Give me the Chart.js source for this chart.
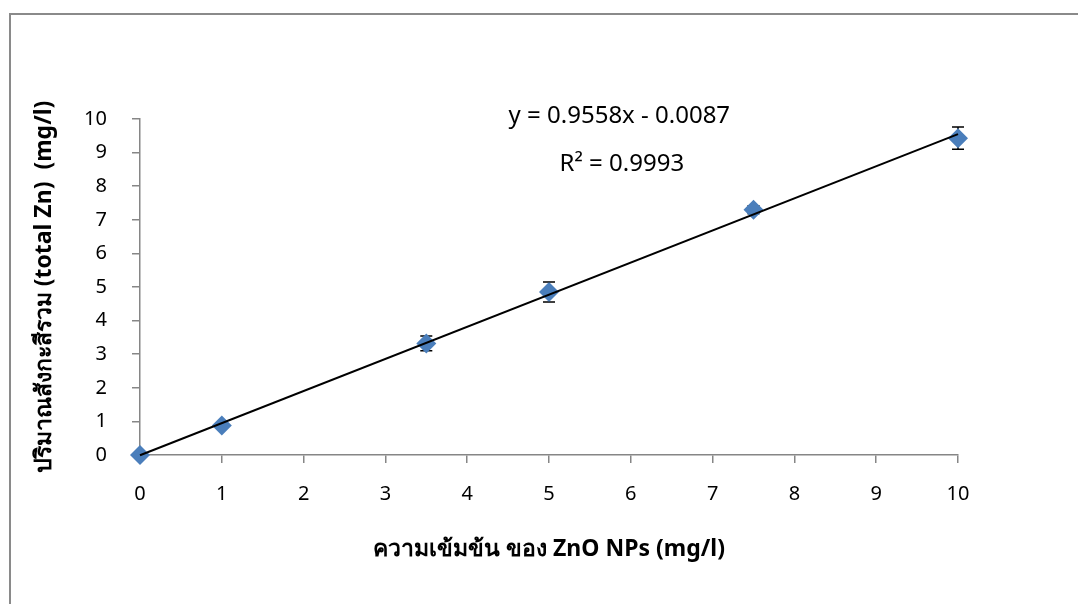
<!DOCTYPE html>
<html>
<head>
<meta charset="utf-8">
<script src="https://cdn.jsdelivr.net/npm/chart.js@4.4.1/dist/chart.umd.min.js"></script>
<style>
  html, body { margin: 0; padding: 0; background: #fff; overflow: hidden; }
  #frame { position: absolute; left: 9px; top: 13px; width: 2000px; height: 2000px;
    border-left: 2px solid #8a8a8a; border-top: 2px solid #8a8a8a; }
  #wrap { position: absolute; left: 0; top: 0; width: 1078px; height: 604px; }
</style>
</head>
<body>
<div id="frame"></div>
<div id="wrap"><canvas id="chart"></canvas></div>
<script>
const conc = [0, 1, 3.5, 5, 7.5, 10];
const totalZn = [0, 0.88, 3.32, 4.85, 7.3, 9.43];
const errZn = [0, 0, 0.22, 0.3, 0.12, 0.33];

// trendline end points (from the fitted equation shown)
const trendX = [0, 10];
const trendY = [-0.0087, 9.5493];

const eqText = "y = 0.9558x - 0.0087";
const r2Text = "R² = 0.9993";

const FONT = '"Noto Sans", "DejaVu Sans", Tahoma, sans-serif';

const errorBars = {
  id: "errorBars",
  beforeDatasetsDraw(chart) {
    const { ctx, scales: { x, y } } = chart;
    ctx.save();
    ctx.strokeStyle = "#000";
    ctx.lineWidth = 1.5;
    conc.forEach((c, i) => {
      const e = errZn[i];
      if (!e) return;
      const px = x.getPixelForValue(c);
      const top = y.getPixelForValue(totalZn[i] + e);
      const bot = y.getPixelForValue(totalZn[i] - e);
      ctx.beginPath();
      ctx.moveTo(px, top); ctx.lineTo(px, bot);
      ctx.moveTo(px - 6, top); ctx.lineTo(px + 6, top);
      ctx.moveTo(px - 6, bot); ctx.lineTo(px + 6, bot);
      ctx.stroke();
    });
    ctx.restore();
  },
};

const eqLabels = {
  id: "eqLabels",
  afterDatasetsDraw(chart) {
    const { ctx, scales: { x, y } } = chart;
    ctx.save();
    ctx.fillStyle = "#000";
    ctx.font = `24px ${FONT}`;
    ctx.textAlign = "center";
    ctx.textBaseline = "middle";
    ctx.fillText(eqText, x.getPixelForValue(5.86), y.getPixelForValue(10.08));
    ctx.fillText(r2Text, x.getPixelForValue(5.89), y.getPixelForValue(8.66));
    ctx.restore();
  },
};

new Chart(document.getElementById("chart"), {
  type: "scatter",
  data: {
    datasets: [
      {
        type: "line",
        label: "trend",
        data: trendX.map((v, i) => ({ x: v, y: trendY[i] })),
        borderColor: "#000",
        borderWidth: 2,
        pointRadius: 0,
        clip: false,
        order: 0,
      },
      {
        label: "total Zn",
        data: conc.map((v, i) => ({ x: v, y: totalZn[i] })),
        pointStyle: "rectRot",
        pointRadius: 10,
        pointHoverRadius: 10,
        backgroundColor: "#4A7EBB",
        borderColor: "#4A7EBB",
        borderWidth: 0,
        clip: false,
        order: 1,
      },
    ],
  },
  options: {
    responsive: true,
    maintainAspectRatio: false,
    animation: false,
    layout: { padding: { left: 0, top: 119, right: 120, bottom: 0 } },
    plugins: { legend: { display: false }, tooltip: { enabled: false } },
    scales: {
      x: {
        type: "linear",
        min: 0,
        max: 10,
        afterFit: (s) => { s.height = 149; },
        ticks: { stepSize: 1, color: "#000", padding: 19, font: { family: FONT, size: 20 } },
        grid: { drawOnChartArea: false, drawTicks: true, tickLength: 8, color: "#868686", lineWidth: 1.5 },
        border: { color: "#868686", width: 1.5 },
        title: {
          display: true,
          text: "ความเข้มข้น ของ ZnO NPs (mg/l)",
          color: "#000",
          padding: { bottom: 41 },
          font: { family: FONT, size: 23, weight: "bold" },
        },
      },
      y: {
        type: "linear",
        min: 0,
        max: 10,
        afterFit: (s) => { s.width = 140; },
        ticks: { stepSize: 1, color: "#000", padding: 25, font: { family: FONT, size: 20 } },
        grid: { drawOnChartArea: false, drawTicks: true, tickLength: 8, color: "#868686", lineWidth: 1.5 },
        border: { color: "#868686", width: 1.5 },
        title: {
          display: true,
          text: "ปริมาณสังกะสีรวม (total Zn)  (mg/l)",
          color: "#000",
          padding: { top: 31 },
          font: { family: FONT, size: 23, weight: "bold" },
        },
      },
    },
  },
  plugins: [errorBars, eqLabels],
});
</script>
</body>
</html>
